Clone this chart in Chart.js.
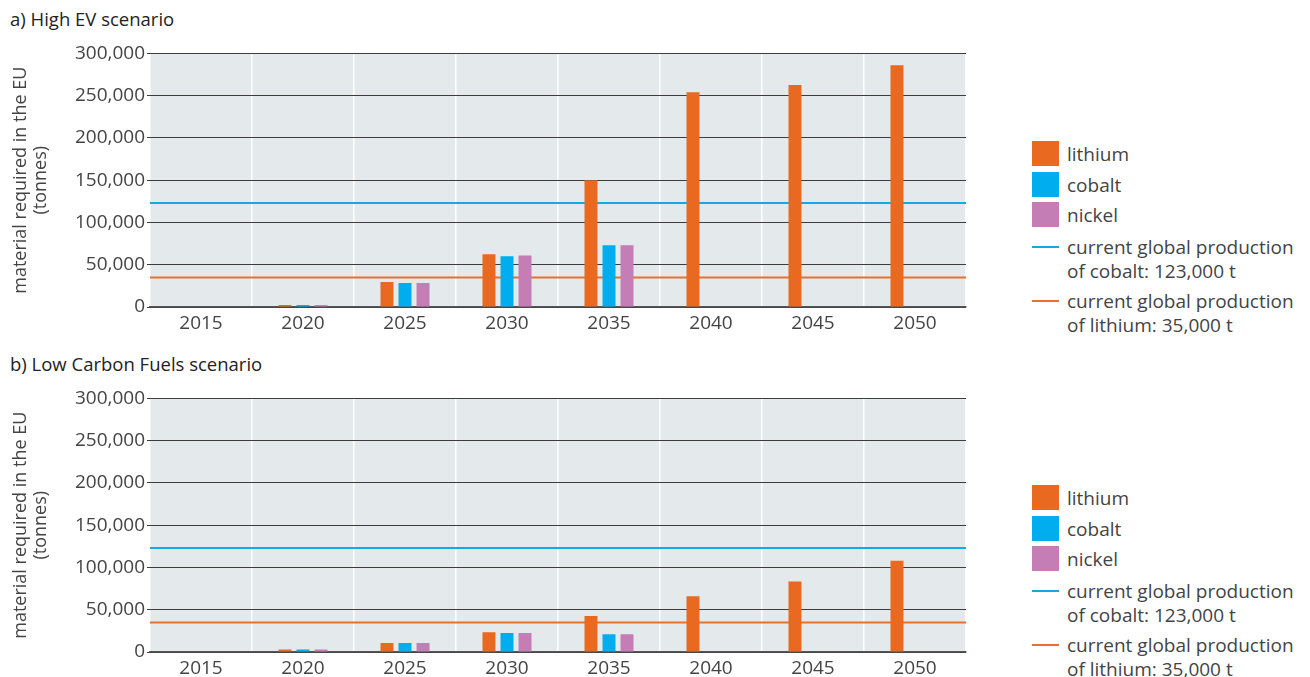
<!DOCTYPE html>
<html>
<head>
<meta charset="utf-8">
<script src="https://cdn.jsdelivr.net/npm/chart.js@4.4.1/dist/chart.umd.min.js"></script>
<style>
  html, body { margin: 0; padding: 0; background: #fff; }
  body { width: 1310px; height: 677px; overflow: hidden; position: relative;
         font-family: "Open Sans", "Lato", sans-serif; color: #444; }
  .title { position: absolute; left: 10px; font-size: 18.5px; color: #222; white-space: nowrap; }
  .chartbox { position: absolute; left: 0; width: 980px; height: 300px; }
  .legend { position: absolute; left: 1032px; width: 278px; height: 200px; font-size: 19px; color: #444; }
  .legend .item { position: absolute; left: 0; }
  .legend .swatch { position: absolute; left: 0; width: 27px; height: 25px; }
  .legend .rule { position: absolute; left: 0; width: 27px; height: 2px; }
  .legend .label { position: absolute; left: 35px; white-space: nowrap; line-height: 23.5px; }
</style>
</head>
<body>
<div class="title" style="top:6px">a) High EV scenario</div>
<div class="chartbox" style="top:40px"><canvas id="chartEV"></canvas></div>
<div class="legend" id="legendEV" style="top:141px"></div>

<div class="title" style="top:351px">b) Low Carbon Fuels scenario</div>
<div class="chartbox" style="top:385px"><canvas id="chartLCF"></canvas></div>
<div class="legend" id="legendLCF" style="top:485px"></div>

<script>
// Years on the category axis
const years = ['2015', '2020', '2025', '2030', '2035', '2040', '2045', '2050'];

// a) High EV scenario, tonnes required in the EU
const evLithium = [null, 2500, 29500, 62500, 150000, 254000, 262500, 286000];
const evCobalt  = [null, 2500, 28500, 60000, 73000, null, null, null];
const evNickel  = [null, 2500, 28500, 61000, 73000, null, null, null];

// b) Low Carbon Fuels scenario, tonnes required in the EU
const lcfLithium = [null, 3000, 10500, 23500, 42500, 66000, 83500, 108000];
const lcfCobalt  = [null, 3000, 10500, 22500, 21000, null, null, null];
const lcfNickel  = [null, 3000, 10500, 22500, 21000, null, null, null];

// Current global production (tonnes)
const cobaltProduction = 123000;
const lithiumProduction = 35000;

// Value axis ticks
const yTicks = [0, 50000, 100000, 150000, 200000, 250000, 300000];

const seriesNames = ['lithium', 'cobalt', 'nickel'];
const seriesColors = ['#E8691F', '#00AEEF', '#C57DB6'];
const productionLines = [
  { value: cobaltProduction, color: '#14A9E3', label: ['current global production', 'of cobalt: 123,000 t'] },
  { value: lithiumProduction, color: '#E8702A', label: ['current global production', 'of lithium: 35,000 t'] }
];

const FONT = '"Open Sans", "Lato", sans-serif';

// Light plot background behind the chart area
const plotBackground = {
  id: 'plotBackground',
  beforeDraw(chart) {
    const { ctx, chartArea: a } = chart;
    ctx.save();
    ctx.fillStyle = '#E4E9EC';
    ctx.fillRect(a.left, a.top, a.right - a.left, a.bottom - a.top);
    ctx.restore();
  }
};

// Horizontal production reference lines, drawn beneath the bars
const productionRules = {
  id: 'productionRules',
  beforeDatasetsDraw(chart) {
    const { ctx, chartArea: a, scales: { y } } = chart;
    productionLines.forEach(l => {
      const py = y.getPixelForValue(l.value);
      ctx.save();
      ctx.strokeStyle = l.color;
      ctx.lineWidth = 2;
      ctx.beginPath();
      ctx.moveTo(a.left, py);
      ctx.lineTo(a.right, py);
      ctx.stroke();
      ctx.restore();
    });
  }
};

function makeChart(canvasId, values) {
  const datasets = values.map((data, i) => ({
    label: seriesNames[i],
    data: data,
    backgroundColor: seriesColors[i],
    borderWidth: 0,
    categoryPercentage: 0.53,
    barPercentage: 0.72
  }));
  return new Chart(document.getElementById(canvasId), {
    type: 'bar',
    data: { labels: years, datasets },
    plugins: [plotBackground, productionRules],
    options: {
      responsive: true,
      maintainAspectRatio: false,
      animation: false,
      layout: { padding: { top: 12, right: 14, bottom: 0, left: 0 } },
      plugins: { legend: { display: false }, tooltip: { enabled: false } },
      scales: {
        x: {
          grid: { color: '#FFFFFF', lineWidth: 1.5, drawTicks: false, offset: true },
          border: { display: true, color: '#555', width: 1.5 },
          ticks: { color: '#444', font: { family: FONT, size: 19 }, padding: 5, maxRotation: 0 },
          afterFit(scale) { scale.height = 33; }
        },
        y: {
          min: 0,
          max: 300000,
          afterBuildTicks(scale) { scale.ticks = yTicks.map(v => ({ value: v })); },
          grid: { color: '#3C3C3C', lineWidth: 1, tickLength: 3, drawTicks: true },
          border: { display: false },
          ticks: {
            color: '#444',
            font: { family: FONT, size: 19 },
            padding: 2,
            callback: v => v.toLocaleString('en-US')
          },
          title: {
            display: true,
            text: ['material required in the EU', '(tonnes)'],
            color: '#444',
            font: { family: FONT, size: 18, lineHeight: 1.1 },
            padding: { top: 11, bottom: 0 }
          },
          afterFit(scale) { scale.width = 150; }
        }
      }
    }
  });
}

function buildLegend(chart, el) {
  chart.data.datasets.forEach((ds, i) => {
    const item = document.createElement('div');
    item.className = 'item';
    item.style.top = [0, 31, 61][i] + 'px';
    item.innerHTML = '<div class="swatch" style="background:' + ds.backgroundColor + '"></div>' +
      '<div class="label" style="top:2px">' + ds.label + '</div>';
    el.appendChild(item);
  });
  productionLines.forEach((l, i) => {
    const item = document.createElement('div');
    item.className = 'item';
    item.style.top = [94, 148][i] + 'px';
    item.innerHTML = '<div class="rule" style="top:11px;background:' + l.color + '"></div>' +
      '<div class="label" style="top:1px">' + l.label.join('<br>') + '</div>';
    el.appendChild(item);
  });
}

const chartEV = makeChart('chartEV', [evLithium, evCobalt, evNickel]);
const chartLCF = makeChart('chartLCF', [lcfLithium, lcfCobalt, lcfNickel]);
buildLegend(chartEV, document.getElementById('legendEV'));
buildLegend(chartLCF, document.getElementById('legendLCF'));
</script>
</body>
</html>
